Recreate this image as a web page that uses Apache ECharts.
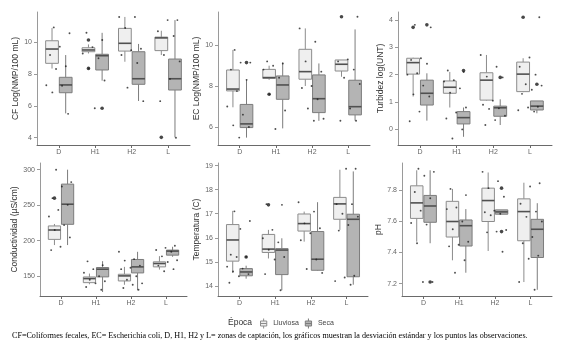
<!DOCTYPE html>
<html>
<head>
<meta charset="utf-8">
<script src="https://cdn.jsdelivr.net/npm/echarts@6/dist/echarts.min.js"></script>
<style>
  html, body { margin: 0; background: #fff; }
  #chart { width: 566px; height: 349px; }
</style>
</head>
<body>
<div id="chart"></div>
<script>
// zonas de captación y épocas
const zonas = ['D', 'H1', 'H2', 'L'];
const epocas = ['Lluviosa', 'Seca'];

// cajas por zona: [min, Q1, mediana, Q3, max]
const cfLluviosa = [[8.35, 8.68, 9.58, 10.10, 10.90], [9.30, 9.41, 9.52, 9.66, 9.87], [8.78, 9.45, 9.94, 10.88, 11.60], [9.20, 9.48, 10.28, 10.33, 10.73]];
const cfSeca = [[5.53, 6.83, 7.32, 7.80, 9.20], [7.59, 8.26, 9.16, 9.25, 10.60], [6.31, 7.36, 7.71, 9.41, 9.90], [4.02, 7.00, 7.71, 8.95, 11.40]];
const cfAtipLluviosa = [[], [10.15, 8.36], [], [4.02]];
const cfAtipSeca = [[], [5.85], [], []];
const cfObs = [
  [10.94, 10.57, 9.73, 9.2, 8.5, 8.32, 7.3, 7.27, 6.85, 5.5],
  [10.6, 10.15, 9.7, 9.3, 9.0, 8.36, 7.6, 5.85],
  [11.6, 11.6, 10.9, 9.6, 9.5, 9.2, 8.7, 7.15, 6.3],
  [11.4, 11.4, 10.7, 10.4, 9.2, 8.8, 7.7, 6.3, 4.0]
];
const cfTicks = [4, 6, 8, 10];

const ecLluviosa = [[6.96, 7.76, 7.85, 8.78, 9.76], [8.30, 8.37, 8.41, 8.81, 8.99], [8.00, 8.33, 8.70, 9.79, 10.81], [8.45, 8.73, 9.06, 9.27, 9.27]];
const ecSeca = [[5.48, 5.97, 6.15, 7.10, 8.30], [5.93, 7.35, 8.05, 8.49, 9.14], [6.30, 6.70, 7.38, 8.54, 9.10], [6.31, 6.59, 6.99, 8.28, 10.76]];
const ecAtipLluviosa = [[], [7.6], [], [11.38]];
const ecAtipSeca = [[9.14], [], [], []];
const ecObs = [
  [9.76, 9.14, 9.14, 8.8, 8.3, 7.75, 7.0, 6.6, 6.08, 6.0, 5.48],
  [9.2, 9.1, 8.99, 8.8, 8.4, 7.6, 6.8, 5.9],
  [10.81, 10.16, 9.2, 8.7, 8.0, 7.9, 7.35, 6.9, 6.4, 6.3],
  [11.38, 9.3, 9.2, 8.8, 8.4, 8.1, 6.9, 6.3, 6.3]
];
const ecTicks = [6, 8, 10];

const tuLluviosa = [[1.20, 2.02, 2.44, 2.60, 2.62], [0.80, 1.32, 1.54, 1.77, 2.10], [1.05, 1.07, 1.80, 2.07, 2.72], [1.36, 1.38, 2.02, 2.46, 2.60]];
const tuSeca = [[0.32, 0.89, 1.32, 1.80, 2.05], [-0.27, 0.20, 0.43, 0.65, 0.80], [0.16, 0.48, 0.79, 0.85, 1.10], [0.59, 0.71, 0.85, 1.04, 1.04]];
const tuAtipLluviosa = [[3.73], [], [], [4.10]];
const tuAtipSeca = [[3.82], [2.15], [1.90], [1.65]];
const tuObs = [
  [3.82, 3.73, 2.6, 2.54, 2.4, 2.05, 2.0, 1.6, 1.28, 1.2, 0.65, 0.3],
  [2.15, 2.1, 1.8, 1.75, 1.5, 1.34, 0.8, 0.62, 0.4, 0.0, -0.33],
  [2.72, 2.29, 1.93, 1.9, 1.05, 0.9, 0.77, 0.75, 0.5, 0.34, 0.16],
  [4.1, 2.63, 2.29, 2.0, 1.65, 1.6, 1.45, 1.3, 0.83, 0.8, 0.7, 0.65]
];
const tuTicks = [0, 1, 2, 3, 4];

const coLluviosa = [[193.9, 201.9, 215.1, 220.8, 223.6], [138.7, 141.0, 146.7, 149.0, 153.8], [138.0, 143.4, 150.5, 152.8, 163.2], [159.4, 163.2, 167.9, 170.3, 178.3]];
const coSeca = [[193.9, 223.1, 251.4, 279.7, 300.0], [127.8, 149.1, 159.9, 162.3, 171.2], [130.2, 154.7, 163.2, 173.6, 184.4], [177.4, 179.7, 185.4, 186.8, 191.5]];
const coAtipLluviosa = [[259.9], [], [], []];
const coAtipSeca = [[], [], [], []];
const coObs = [
  [300, 282.5, 276.4, 259.9, 250.5, 243.4, 234, 222, 215, 204.7, 191.5, 186.8],
  [171, 165.6, 160, 155, 150, 145, 143, 140, 134.9, 131.1],
  [184.4, 174.1, 172, 165, 162, 160, 150, 145, 140, 138, 133.5, 131],
  [192.9, 190, 187, 184.4, 178, 172.6, 170, 165, 160, 157.1]
];
const coTicks = [150, 200, 250, 300];

const teLluviosa = [[14.54, 15.03, 15.91, 16.55, 17.12], [15.14, 15.39, 15.53, 16.14, 16.33], [15.84, 16.28, 16.59, 16.99, 17.09], [16.33, 16.77, 17.41, 17.68, 18.83]];
const teSeca = [[14.30, 14.42, 14.58, 14.72, 14.84], [13.82, 14.47, 15.49, 15.55, 15.98], [14.63, 14.65, 15.11, 16.26, 17.48], [14.05, 14.38, 16.77, 16.98, 18.76]];
const teAtipLluviosa = [[], [17.37], [], []];
const teAtipSeca = [[15.2], [], [], []];
const teObs = [
  [17.1, 16.7, 16.37, 15.3, 15.21, 15.2, 14.8, 14.72, 14.6, 14.49, 14.4, 14.13],
  [17.4, 17.37, 16.33, 15.98, 15.81, 15.5, 15.2, 15.1, 14.49, 13.82],
  [17.48, 17.09, 16.6, 16.4, 16.19, 15.9, 15.1, 14.7, 14.54],
  [18.87, 18.87, 17.4, 17.4, 17.0, 16.88, 16.53, 16.3, 14.42, 14.35, 14.2, 14.05]
];
const teTicks = [14, 15, 16, 17, 18, 19];

const phLluviosa = [[7.47, 7.62, 7.72, 7.83, 7.93], [7.35, 7.50, 7.60, 7.73, 7.81], [7.41, 7.60, 7.735, 7.815, 7.916], [7.21, 7.476, 7.664, 7.746, 7.85]];
const phSeca = [[7.46, 7.595, 7.70, 7.768, 7.93], [7.27, 7.442, 7.573, 7.61, 7.68], [7.647, 7.647, 7.662, 7.675, 7.675], [7.16, 7.368, 7.55, 7.614, 7.718]];
const phAtipLluviosa = [[], [], [], []];
const phAtipSeca = [[7.21], [], [7.815, 7.535], []];
const phObs = [
  [7.94, 7.92, 7.895, 7.79, 7.75, 7.67, 7.59, 7.58, 7.46, 7.21, 7.21],
  [7.81, 7.77, 7.69, 7.68, 7.6, 7.55, 7.47, 7.45, 7.44, 7.35, 7.27],
  [7.92, 7.86, 7.815, 7.76, 7.67, 7.66, 7.65, 7.64, 7.545, 7.535, 7.53, 7.405],
  [7.847, 7.826, 7.714, 7.664, 7.63, 7.6, 7.5, 7.46, 7.38, 7.36, 7.21, 7.16]
];
const phTicks = [7.2, 7.4, 7.6, 7.8];

const nota = 'CF=Coliformes fecales, EC= Escherichia coli, D, H1, H2 y L= zonas de captación, los gráficos muestran la desviación estándar y los puntos las observaciones.';

// paneles (posición de cada grid)
const panels = [
  { name: 'CF Log(NMP/100 mL)', ll: cfLluviosa, se: cfSeca, atL: cfAtipLluviosa, atS: cfAtipSeca, obs: cfObs, ticks: cfTicks, min: 3.54, max: 11.91, grid: { left: 37, top: 12, width: 153, height: 133 }, gap: 13 },
  { name: 'EC Log(NMP/100 mL)', ll: ecLluviosa, se: ecSeca, atL: ecAtipLluviosa, atS: ecAtipSeca, obs: ecObs, ticks: ecTicks, min: 5.12, max: 11.61, grid: { left: 218, top: 12, width: 152, height: 133 }, gap: 12 },
  { name: 'Turbidez log(UNT)', ll: tuLluviosa, se: tuSeca, atL: tuAtipLluviosa, atS: tuAtipSeca, obs: tuObs, ticks: tuTicks, min: -0.57, max: 4.29, grid: { left: 398, top: 12, width: 154, height: 133 }, gap: 12 },
  { name: 'Conductividad (µS/cm)', ll: coLluviosa, se: coSeca, atL: coAtipLluviosa, atS: coAtipSeca, obs: coObs, ticks: coTicks, min: 122.2, max: 309.4, grid: { left: 40, top: 163, width: 147, height: 133 }, gap: 17 },
  { name: 'Temperatura (C)', ll: teLluviosa, se: teSeca, atL: teAtipLluviosa, atS: teAtipSeca, obs: teObs, ticks: teTicks, min: 13.58, max: 19.11, grid: { left: 218, top: 163, width: 150, height: 133 }, gap: 12.5 },
  { name: 'pH', ll: phLluviosa, se: phSeca, atL: phAtipLluviosa, atS: phAtipSeca, obs: phObs, ticks: phTicks, min: 7.12, max: 7.977, grid: { left: 402, top: 163, width: 150, height: 133 }, gap: 16.5 }
];

const OFF = 0.1875;   // desplazamiento de cada época
const HALF = 0.175;   // media anchura de caja
const estilo = {
  Lluviosa: { fill: '#efefef', stroke: '#8c8c8c' },
  Seca: { fill: '#b4b4b4', stroke: '#7c7c7c' }
};

function renderBox(offset, st) {
  return function (params, api) {
    const x = api.value(0) + offset;
    const top = api.coord([x, api.value(5)]);
    const bot = api.coord([x, api.value(1)]);
    const lt = api.coord([x - HALF, api.value(4)]);
    const rb = api.coord([x + HALF, api.value(2)]);
    const med = api.coord([x, api.value(3)]);
    const line = { stroke: st.stroke, lineWidth: 1 };
    return {
      type: 'group',
      children: [
        { type: 'line', shape: { x1: top[0], y1: top[1], x2: top[0], y2: lt[1] }, style: line },
        { type: 'line', shape: { x1: bot[0], y1: rb[1], x2: bot[0], y2: bot[1] }, style: line },
        { type: 'rect', shape: { x: lt[0], y: lt[1], width: rb[0] - lt[0], height: Math.max(rb[1] - lt[1], 0.5) },
          style: { fill: st.fill, stroke: st.stroke, lineWidth: 1 } },
        { type: 'line', shape: { x1: lt[0], y1: med[1], x2: rb[0], y2: med[1] }, style: { stroke: '#505050', lineWidth: 1.6 } }
      ]
    };
  };
}

// reparto horizontal de los puntos dentro de cada zona
function jitter(k) {
  return ((k * 0.618034 + 0.3) % 1 - 0.5) * 0.7;
}

const grids = [], xAxes = [], yAxes = [], series = [];
panels.forEach(function (p, i) {
  grids.push(p.grid);
  xAxes.push({
    type: 'value', gridIndex: i, min: -0.6, max: 3.6,
    splitLine: { show: false },
    axisLine: { onZero: false, lineStyle: { color: '#6a6a6a', width: 1 } },
    axisTick: { customValues: [0, 1, 2, 3], length: 3, lineStyle: { color: '#6a6a6a' } },
    axisLabel: { customValues: [0, 1, 2, 3], formatter: v => zonas[Math.round(v)], fontSize: 7, color: '#666', margin: 4, fontFamily: 'Liberation Sans' }
  });
  yAxes.push({
    type: 'value', gridIndex: i, min: p.min, max: p.max,
    name: p.name, nameLocation: 'middle', nameGap: p.gap,
    nameTextStyle: { fontSize: 8.5, color: '#333', fontFamily: 'Liberation Sans' },
    splitLine: { show: false },
    axisLine: { show: true, onZero: false, lineStyle: { color: '#9a9a9a', width: 1 } },
    axisTick: { show: true, customValues: p.ticks, length: 3, lineStyle: { color: '#9a9a9a' } },
    axisLabel: { customValues: p.ticks, fontSize: 7, color: '#666', margin: 5, fontFamily: 'Liberation Sans' }
  });
  [['Lluviosa', p.ll, -OFF], ['Seca', p.se, OFF]].forEach(function (e) {
    series.push({
      type: 'custom', name: e[0], xAxisIndex: i, yAxisIndex: i, z: 2,
      itemStyle: { color: estilo[e[0]].fill, borderColor: estilo[e[0]].stroke },
      renderItem: renderBox(e[2], estilo[e[0]]),
      encode: { x: 0, y: [1, 2, 3, 4, 5] },
      data: e[1].map((b, zi) => [zi].concat(b))
    });
  });
  const atip = [];
  p.atL.forEach((vals, zi) => vals.forEach(v => atip.push([zi - OFF, v])));
  p.atS.forEach((vals, zi) => vals.forEach(v => atip.push([zi + OFF, v])));
  series.push({
    type: 'scatter', xAxisIndex: i, yAxisIndex: i, z: 3, silent: true,
    symbolSize: 3.6, itemStyle: { color: '#1a1a1a' }, data: atip
  });
  const pts = [];
  p.obs.forEach((vals, zi) => vals.forEach((v, k) => pts.push([zi + jitter(k + zi * 3), v])));
  series.push({
    type: 'scatter', xAxisIndex: i, yAxisIndex: i, z: 4, silent: true,
    symbolSize: 1.9, itemStyle: { color: '#222' }, data: pts
  });
});

const icono = 'path://M0,4H10V12H0Z M0,8H10 M5,0V4 M5,12V16';

const chart = echarts.init(document.getElementById('chart'), null, { renderer: 'canvas' });
chart.setOption({
  animation: false,
  backgroundColor: '#fff',
  grid: grids,
  xAxis: xAxes,
  yAxis: yAxes,
  legend: {
    left: 260, top: 318, padding: 0, itemGap: 6, itemWidth: 9, itemHeight: 10,
    selectedMode: false,
    textStyle: { fontSize: 7, color: '#444', fontFamily: 'Liberation Sans' },
    data: epocas.map(n => ({
      name: n, icon: icono,
      itemStyle: { color: estilo[n].fill, borderColor: estilo[n].stroke, borderWidth: 1 }
    }))
  },
  graphic: [
    { type: 'text', left: 228, top: 318, style: { text: 'Época', fontSize: 8.5, fill: '#333', fontFamily: 'Liberation Sans' } },
    { type: 'text', left: 12, top: 332, style: { text: nota, fontSize: 8.1, fill: '#000', fontFamily: 'Liberation Serif' } }
  ],
  series: series
});
</script>
</body>
</html>
